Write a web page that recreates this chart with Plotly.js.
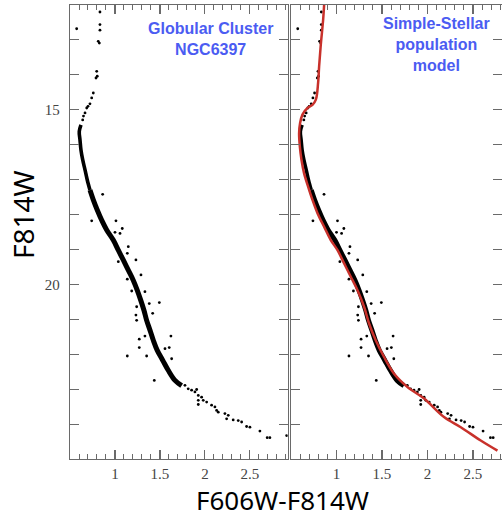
<!DOCTYPE html>
<html>
<head>
<meta charset="utf-8">
<script src="https://cdn.plot.ly/plotly-3.0.1.min.js"></script>
<style>html,body{margin:0;padding:0;background:#fff;overflow:hidden}</style>
</head>
<body>
<div id="chart" style="width:502px;height:517px"></div>
<script>
// Dense main-sequence ridge (F606W-F814W colour, F814W magnitude)
const ridgeColor = [0.622,0.603,0.611,0.622,0.641,0.667,0.692,0.722,0.759,0.803,0.852,0.908,0.981,1.037,1.092,1.148,1.203,1.248,1.286,1.322,1.352,1.389,1.426,1.470,1.530,1.592,1.667,1.741];
const ridgeMag   = [15.43,15.62,15.86,16.15,16.43,16.72,17.01,17.30,17.58,17.87,18.16,18.44,18.73,19.02,19.30,19.59,19.88,20.17,20.45,20.74,21.03,21.31,21.60,21.89,22.17,22.46,22.75,22.90];
const ridgeUpperCount = 8; // turnoff part of the ridge is thinner

// Individual stars: giant / subgiant branch, outliers, faint lower sequence
const starColor = [0.833,0.833,0.833,0.814,0.826,0.797,0.803,0.789,0.759,0.741,0.574,0.722,0.700,0.686,0.667,0.650,0.641,
  0.863,0.741,1.011,1.081,1.000,1.056,1.148,1.137,1.037,1.233,1.289,1.137,1.333,1.186,1.493,1.241,1.381,1.419,1.233,1.241,1.622,1.270,1.333,1.603,1.556,1.270,1.137,1.352,1.630,1.437,1.926,
  1.778,1.814,1.852,1.889,1.908,1.926,1.963,1.981,1.926,2.019,2.074,2.111,2.148,2.130,2.222,2.259,2.241,2.314,2.370,2.408,2.463,2.500,2.611,2.692,2.722,2.908];
const starMag   = [12.20,12.56,12.72,13.04,13.09,13.90,14.04,14.09,14.52,14.66,12.68,14.83,14.90,14.95,15.09,15.18,15.29,
  17.42,18.18,18.18,18.40,18.51,18.54,18.92,19.11,19.35,19.30,19.73,19.85,20.21,20.19,20.52,20.64,20.55,20.83,20.88,21.03,21.48,21.57,21.48,21.81,21.84,21.81,22.05,22.05,22.13,22.75,23.44,
  22.89,22.99,23.03,23.08,23.01,23.18,23.23,23.32,23.32,23.37,23.46,23.51,23.66,23.61,23.70,23.75,23.85,23.88,23.90,23.94,24.07,24.09,24.20,24.39,24.39,24.33];

// Simple-stellar-population model isochrone
const modelColor = [0.864,0.853,0.827,0.809,0.798,0.773,0.736,0.681,0.626,0.600,0.589,0.597,0.615,0.644,0.688,0.736,0.791,0.864,0.937,1.011,1.084,1.157,1.231,1.303,1.358,1.431,1.523,1.633,1.780,1.963,2.182,2.366,2.585,2.769];
const modelMag   = [12.00,12.43,13.15,13.76,14.23,14.71,14.86,14.95,15.14,15.38,15.67,16.05,16.43,16.82,17.20,17.58,17.96,18.35,18.73,19.02,19.40,19.78,20.17,20.64,21.12,21.60,22.08,22.56,22.94,23.27,23.80,24.09,24.47,24.76];

const xTickVals = [1, 1.5, 2, 2.5];
const xTickText = ['1', '1.5', '2', '2.5'];
const yTickVals = [15, 20];
const yTickText = ['15', '20'];

const frame = '#6a6a6a';
const tickFont = {family: 'Liberation Serif, serif', size: 15, color: '#444'};

function ridgeTraces(xa, ya) {
  const n = ridgeUpperCount;
  return [
    {x: ridgeColor.slice(0, n), y: ridgeMag.slice(0, n), xaxis: xa, yaxis: ya, type: 'scatter', mode: 'lines',
      line: {color: '#000', width: 3.6, shape: 'spline'}, hoverinfo: 'skip', showlegend: false},
    {x: ridgeColor.slice(n - 1), y: ridgeMag.slice(n - 1), xaxis: xa, yaxis: ya, type: 'scatter', mode: 'lines',
      line: {color: '#000', width: 5, shape: 'spline'}, hoverinfo: 'skip', showlegend: false}
  ];
}
function starTrace(xa, ya) {
  return {x: starColor, y: starMag, xaxis: xa, yaxis: ya, type: 'scatter', mode: 'markers',
    marker: {color: '#000', size: 2.8}, showlegend: false};
}
const modelTrace = {x: modelColor, y: modelMag, xaxis: 'x2', yaxis: 'y2', type: 'scatter', mode: 'lines',
  line: {color: '#c8312b', width: 2.5, shape: 'spline'}, showlegend: false};

function xAxis(domain, range, anchor) {
  return {domain: domain, range: range, anchor: anchor, showline: true, mirror: 'ticks',
    linecolor: frame, linewidth: 1.2, ticks: 'inside', ticklen: 9, tickwidth: 1.1, tickcolor: frame,
    tickmode: 'array', tickvals: xTickVals, ticktext: xTickText, tickfont: tickFont, ticklabelstandoff: 1,
    minor: {dtick: 0.1, tick0: 0.5, ticks: 'inside', ticklen: 5, tickwidth: 1, tickcolor: frame},
    showgrid: false, zeroline: false, fixedrange: true};
}
function yAxis(anchor, showLabels) {
  return {domain: [0, 1], range: [25, 12], anchor: anchor, showline: true, mirror: 'ticks',
    linecolor: frame, linewidth: 1.2, ticks: 'inside', ticklen: 9, tickwidth: 1.1, tickcolor: frame,
    tickmode: 'array', tickvals: yTickVals, ticktext: yTickText, tickfont: tickFont,
    showticklabels: showLabels, ticklabelstandoff: 6,
    minor: {dtick: 1, tick0: 12, ticks: 'inside', ticklen: 9, tickwidth: 1.1, tickcolor: frame},
    showgrid: false, zeroline: false, fixedrange: true};
}

const W = 432;
const layout = {
  width: 502, height: 517,
  margin: {l: 70, r: 0, t: 5, b: 58},
  paper_bgcolor: '#fff', plot_bgcolor: '#fff',
  showlegend: false,
  xaxis: xAxis([0, 217.7 / W], [0.5, 2.92], 'y'),
  xaxis2: xAxis([221 / W, 1], [0.5, 2.819], 'y2'),
  yaxis: yAxis('x', true),
  yaxis2: yAxis('x2', false),
  annotations: [
    {text: '<b>Globular Cluster<br>NGC6397</b>', xref: 'paper', yref: 'paper',
      x: (210 - 70) / W, y: 1 - (39 - 5) / 454, xanchor: 'center', yanchor: 'middle', showarrow: false,
      font: {family: 'Liberation Sans, Arial, sans-serif', size: 16, color: '#4b5cf2'}},
    {text: '<b>Simple-Stellar<br>population<br>model</b>', xref: 'paper', yref: 'paper',
      x: (436.3 - 70) / W, y: 1 - (44 - 5) / 454, xanchor: 'center', yanchor: 'middle', showarrow: false,
      font: {family: 'Liberation Sans, Arial, sans-serif', size: 16, color: '#4b5cf2'}},
    {text: 'F606W-F814W', xref: 'paper', yref: 'paper', borderpad: 0,
      x: (282.5 - 70) / W, y: 1 - (500 - 5) / 454, xanchor: 'center', yanchor: 'middle', showarrow: false,
      font: {family: 'Noto Sans, sans-serif', size: 26, color: '#000'}},
    {text: 'F814W', xref: 'paper', yref: 'paper', textangle: -90,
      x: (23 - 70) / W, y: 1 - (215 - 5) / 454, xanchor: 'center', yanchor: 'middle', showarrow: false,
      font: {family: 'Noto Sans, sans-serif', size: 28, color: '#000'}}
  ]
};

const data = [].concat(ridgeTraces('x', 'y'), [starTrace('x', 'y')], ridgeTraces('x2', 'y2'), [starTrace('x2', 'y2'), modelTrace]);
Plotly.newPlot('chart', data, layout, {displayModeBar: false, staticPlot: true});
</script>
</body>
</html>
